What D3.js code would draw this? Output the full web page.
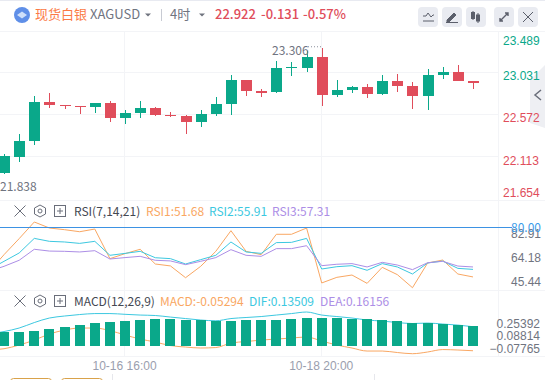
<!DOCTYPE html>
<html>
<head>
<meta charset="utf-8">
<script src="https://cdn.jsdelivr.net/npm/d3@7"></script>
<style>
  html, body { margin: 0; padding: 0; background: #fff; overflow: hidden; }
  svg { display: block; font-family: "Noto Sans CJK SC", "Noto Sans", sans-serif; }
</style>
</head>
<body>
<svg width="545" height="380"></svg>
<script>
// first entry of each series sits just off the left edge
const opens = [21.85, 21.937, 22.112, 22.287, 22.713, 22.68, 22.669, 22.658, 22.702, 22.538, 22.593, 22.647, 22.571, 22.56, 22.494, 22.582, 22.691, 22.953, 22.833, 22.822, 23.085, 23.085, 23.205, 22.79, 22.844, 22.877, 22.8, 22.943, 22.888, 22.779, 23.008, 23.041, 22.943];
const closes = [21.937, 22.123, 22.287, 22.713, 22.68, 22.669, 22.658, 22.702, 22.538, 22.593, 22.647, 22.571, 22.56, 22.494, 22.582, 22.691, 22.953, 22.833, 22.811, 23.085, 23.096, 23.205, 22.79, 22.844, 22.877, 22.8, 22.943, 22.888, 22.779, 23.008, 23.041, 22.943, 22.922];
const highs = [21.98, 22.145, 22.363, 22.779, 22.811, 22.68, 22.669, 22.702, 22.724, 22.626, 22.724, 22.658, 22.604, 22.571, 22.626, 22.768, 23.008, 22.953, 22.855, 23.161, 23.15, 23.27, 23.306, 22.953, 22.888, 22.91, 23.008, 23.019, 22.932, 23.074, 23.096, 23.117, 22.943];
const lows = [21.838, 21.926, 22.057, 22.243, 22.647, 22.636, 22.582, 22.593, 22.494, 22.473, 22.538, 22.56, 22.549, 22.363, 22.44, 22.56, 22.571, 22.779, 22.768, 22.811, 22.997, 23.041, 22.669, 22.768, 22.811, 22.757, 22.79, 22.822, 22.636, 22.626, 22.964, 22.943, 22.855];

const rsi1 = [45.3, 58.8, 71.3, 84.3, 79.6, 78.3, 76.7, 78.8, 55.7, 59.6, 63.0, 51.5, 50.0, 40.8, 49.7, 61.4, 77.5, 61.4, 58.8, 74.7, 74.7, 79.6, 36.7, 41.1, 42.9, 36.4, 48.9, 43.2, 33.0, 52.3, 54.6, 43.7, 41.4];
const rsi2 = [47.1, 53.6, 60.1, 71.5, 69.2, 68.7, 67.6, 69.2, 58.3, 59.8, 61.4, 56.4, 55.7, 51.5, 54.9, 58.3, 68.7, 60.9, 59.8, 68.2, 68.4, 71.5, 47.6, 49.4, 50.2, 46.6, 51.8, 49.2, 43.7, 52.3, 53.8, 48.1, 47.3];
const rsi3 = [45.8, 49.7, 54.4, 63.0, 61.6, 61.4, 60.9, 61.9, 55.4, 56.5, 57.5, 54.4, 53.9, 51.0, 53.6, 56.5, 62.7, 58.3, 57.5, 63.5, 63.5, 65.8, 50.2, 51.3, 51.8, 49.2, 52.8, 50.7, 47.1, 52.5, 53.6, 49.9, 49.2];

const macdLine = [-0.1, -0.085, -0.035, 0.032, 0.113, 0.167, 0.194, 0.194, 0.16, 0.1, 0.046, 0.005, -0.042, -0.062, -0.075, -0.069, -0.008, 0.012, 0.032, 0.046, 0.059, 0.073, 0.019, -0.035, -0.075, -0.116, -0.116, -0.136, -0.152, -0.129, -0.096, -0.102, -0.112];
const difLine = [0.113, 0.147, 0.194, 0.268, 0.329, 0.356, 0.376, 0.389, 0.389, 0.379, 0.369, 0.363, 0.342, 0.322, 0.302, 0.292, 0.322, 0.336, 0.349, 0.369, 0.389, 0.41, 0.369, 0.349, 0.329, 0.302, 0.288, 0.268, 0.255, 0.261, 0.248, 0.234, 0.212];
const macdBars = [0.14, 0.14, 0.14, 0.154, 0.181, 0.208, 0.234, 0.261, 0.275, 0.288, 0.302, 0.315, 0.315, 0.302, 0.302, 0.292, 0.288, 0.302, 0.302, 0.302, 0.315, 0.329, 0.329, 0.329, 0.315, 0.315, 0.302, 0.288, 0.261, 0.261, 0.248, 0.234, 0.221];
const macdBase = -0.05294;

const priceTicks = [23.489, 23.031, 22.572, 22.113, 21.654];
const rsiTicks = [82.91, 64.18, 45.44];
const macdTicks = [0.25392, 0.08814, -0.07765];
const timeTicks = [9, 22];
const timeLabels = ["10-16 16:00", "10-18 20:00"];
const lastClose = 22.922;

const GREEN = "#0aa88a";
const RED = "#e04d5b";
const ORANGE = "#f9a763";
const CYAN = "#3cc8e0";
const PURPLE = "#ac8ee6";
const GRID = "#f3f4f7";
const GRAY = "#70747f";

const svg = d3.select("svg");
const idx = d3.range(opens.length);

const x = d3.scaleLinear().domain([0, 32]).range([-11.1, 473]);
const priceY = d3.scaleLinear().domain([21.654, 23.489]).range([199, 31]);
const rsiY = d3.scaleLinear().domain([80 - 62.5 / 1.281, 80]).range([290, 227.5]);
const macdY = d3.scaleLinear().domain([-0.07765, 0.25392]).range([348.2, 323.6]);

const fillGroup = svg.append("g").attr("shape-rendering", "crispEdges");

// grid and pane borders
const gridH = [[0, 545, 31], [0, 498, priceY(23.031)], [0, 498, priceY(22.572)], [0, 498, priceY(22.113)],
  [0, 545, 200.5], [0, 545, 290.5], [0, 545, 356.5]];
gridH.forEach((d) => {
  fillGroup.append("line")
    .attr("x1", d[0]).attr("x2", d[1])
    .attr("y1", Math.floor(d[2]) + 0.5).attr("y2", Math.floor(d[2]) + 0.5)
    .attr("stroke", GRID);
});
timeTicks.forEach((t) => {
  fillGroup.append("line")
    .attr("x1", Math.round(x(t)) - 0.5).attr("x2", Math.round(x(t)) - 0.5)
    .attr("y1", 31).attr("y2", 356)
    .attr("stroke", GRID);
});
fillGroup.append("line")
  .attr("x1", 498.5).attr("x2", 498.5).attr("y1", 31).attr("y2", 356)
  .attr("stroke", GRID);
fillGroup.append("rect").attr("width", 545).attr("height", 1).attr("fill", "#e8eaf1");

// side tab, the price labels run over it
svg.append("path").attr("d", "M530 80L545 65V128L530 123Z").attr("fill", "#eeeff3");
svg.append("path").attr("d", "M541 90L535 95L541 100").attr("fill", "none").attr("stroke", "#6a6e7a").attr("stroke-width", 1.5);

// candles
const candleColor = (i) => (closes[i] >= opens[i] ? GREEN : RED);
fillGroup.selectAll("rect.wick")
  .data(idx)
  .join("rect")
  .attr("class", "wick")
  .attr("x", (i) => Math.round(x(i)))
  .attr("width", 1)
  .attr("y", (i) => priceY(highs[i]))
  .attr("height", (i) => priceY(lows[i]) - priceY(highs[i]))
  .attr("fill", candleColor);

fillGroup.selectAll("rect.body")
  .data(idx)
  .join("rect")
  .attr("class", "body")
  .attr("x", (i) => Math.round(x(i)) - 5)
  .attr("width", 11)
  .attr("y", (i) => priceY(Math.max(opens[i], closes[i])))
  .attr("height", (i) => Math.max(1, Math.abs(priceY(opens[i]) - priceY(closes[i]))))
  .attr("fill", candleColor);

// high and low marks
svg.append("line")
  .attr("x1", 308).attr("x2", x(22))
  .attr("y1", priceY(d3.max(highs)) - 1).attr("y2", priceY(d3.max(highs)) - 1)
  .attr("stroke", "#8b8f9c").attr("stroke-dasharray", "1 2");
svg.append("text").attr("x", 272).attr("y", 55).attr("font-size", 12).attr("fill", GRAY).text(d3.max(highs).toFixed(3));
svg.append("text").attr("x", 0).attr("y", 191).attr("font-size", 12).attr("fill", GRAY).text(d3.min(lows).toFixed(3));

// RSI lines
const rsiLine = d3.line().x((d, i) => x(i)).y((d) => rsiY(d));
[[rsi1, ORANGE], [rsi2, CYAN], [rsi3, PURPLE]].forEach(([s, c]) => {
  svg.append("path").attr("d", rsiLine(s)).attr("fill", "none").attr("stroke", c);
});
svg.append("line")
  .attr("x1", 0).attr("x2", 512)
  .attr("y1", rsiY(80)).attr("y2", rsiY(80))
  .attr("stroke", "#3d92e3").attr("shape-rendering", "crispEdges");

// MACD lines sit under the bars
const macdPath = d3.line().x((d, i) => x(i)).y((d) => macdY(d)).curve(d3.curveMonotoneX);
[[macdLine, ORANGE], [difLine, CYAN]].forEach(([s, c]) => {
  svg.append("path").attr("d", macdPath(s)).attr("fill", "none").attr("stroke", c);
});
svg.append("g").attr("shape-rendering", "crispEdges")
  .selectAll("rect")
  .data(macdBars)
  .join("rect")
  .attr("x", (d, i) => Math.round(x(i)) - 5)
  .attr("width", 10)
  .attr("y", (d) => macdY(d))
  .attr("height", (d) => macdY(macdBase) - macdY(d))
  .attr("fill", GREEN);

// axes
const cleanAxis = (g) => {
  g.select(".domain").remove();
  g.selectAll(".tick line").remove();
  g.selectAll("text").attr("font-family", null);
};

const priceShift = [9, 3, 3, 4, -7];
svg.append("g")
  .attr("transform", "translate(503,0)")
  .call(d3.axisRight(priceY).tickValues(priceTicks).tickFormat(d3.format(".3f")).tickSize(0).tickPadding(0))
  .call(cleanAxis)
  .attr("font-size", 12)
  .selectAll("text")
  .attr("dy", (d, i) => 4 + priceShift[i])
  .attr("fill", (d) => (d > lastClose ? GREEN : RED));

svg.append("g")
  .attr("transform", "translate(511,0)")
  .call(d3.axisRight(rsiY).tickValues(rsiTicks).tickFormat(d3.format(".2f")).tickSize(0).tickPadding(0))
  .call(cleanAxis)
  .attr("font-size", 12)
  .selectAll("text")
  .attr("dy", 14)
  .attr("fill", GRAY);

svg.append("text")
  .attr("x", 511).attr("y", rsiY(80) + 4)
  .attr("font-size", 12).attr("fill", "#3d9be9").text("80.00");

svg.append("g")
  .attr("transform", "translate(540,0)")
  .call(d3.axisLeft(macdY).tickValues(macdTicks).tickFormat(d3.format(".5f")).tickSize(0).tickPadding(0))
  .call(cleanAxis)
  .attr("font-size", 12)
  .selectAll("text")
  .attr("dy", 4)
  .attr("fill", GRAY);

svg.append("g")
  .attr("transform", "translate(-1,362)")
  .call(d3.axisBottom(x).tickValues(timeTicks).tickFormat((d, i) => timeLabels[i]).tickSize(0).tickPadding(0))
  .call(cleanAxis)
  .attr("font-size", 12)
  .selectAll("text")
  .attr("dy", 8)
  .attr("fill", "#9a9eae");

// pane headers
const label = (s, px, py, color, size) => svg.append("text")
  .attr("x", px).attr("y", py).attr("font-size", size || 12).attr("fill", color).text(s);

const paneIcons = (cy) => {
  const g = svg.append("g").attr("fill", "none").attr("stroke", "#6a6e7a");
  g.append("path").attr("d", `M14.5 ${cy - 5.5}L25.5 ${cy + 5.5}M25.5 ${cy - 5.5}L14.5 ${cy + 5.5}`);
  g.append("path").attr("d", `M34.5 ${cy - 3}L40 ${cy - 6}L45.5 ${cy - 3}V${cy + 3}L40 ${cy + 6}L34.5 ${cy + 3}Z`);
  g.append("circle").attr("cx", 40).attr("cy", cy).attr("r", 2);
  g.append("rect").attr("x", 54.5).attr("y", cy - 5.5).attr("width", 11).attr("height", 11);
  g.append("path").attr("d", `M57 ${cy}H63M60 ${cy - 3}V${cy + 3}`);
};

paneIcons(211);
label("RSI(7,14,21)", 74, 216, "#444852");
label("RSI1:51.68", 146, 216, ORANGE);
label("RSI2:55.91", 209, 216, CYAN);
label("RSI3:57.31", 272, 216, PURPLE);

paneIcons(301);
label("MACD(12,26,9)", 74, 306, "#444852");
label("MACD:-0.05294", 160, 306, ORANGE);
label("DIF:0.13509", 249, 306, CYAN);
label("DEA:0.16156", 320, 306, PURPLE);

// title bar
svg.append("circle").attr("cx", 22).attr("cy", 15).attr("r", 8).attr("fill", "#5f8fe8");
svg.append("path").attr("d", "M17 15L22 11.5L27 15L22 18.5Z").attr("fill", "#cfe0fa");
label("现货白银", 35, 19, "#fb7a45", 13);
label("XAGUSD", 90, 19, GRAY, 13);
label("4时", 170, 19, GRAY, 13);
label("22.922", 215, 19, RED, 13).attr("font-weight", 500);
label("-0.131", 261, 19, RED, 13).attr("font-weight", 500);
label("-0.57%", 303, 19, RED, 13).attr("font-weight", 500);
svg.append("path").attr("d", "M145 13.5H151L148 16.5Z M199 13.5H205L202 16.5Z").attr("fill", GRAY);
svg.append("line").attr("x1", 161.5).attr("x2", 161.5).attr("y1", 9).attr("y2", 21).attr("stroke", "#c8cbd3");

// tool buttons
const btnX = [418, 442, 466, 494, 518];
svg.append("g").selectAll("rect").data(btnX).join("rect")
  .attr("x", (d) => d).attr("y", 7).attr("width", 20).attr("height", 20).attr("rx", 4)
  .attr("fill", "#e9ebf1");
const ic = svg.append("g").attr("fill", "none").attr("stroke", "#5b5f6b");
ic.append("path").attr("d", "M423 16H426L428 13L431 17L433 15H434M423 21H434");
ic.append("path").attr("d", "M447 20L454 13L456 15L449 22H447ZM446 22.5H458").attr("fill", "#5b5f6b");
ic.append("path").attr("d", "M473 11V20M478 13V23");
ic.append("rect").attr("x", 471.5).attr("y", 12.5).attr("width", 3).attr("height", 6).attr("fill", "#5b5f6b");
ic.append("rect").attr("x", 476.5).attr("y", 15).attr("width", 3).attr("height", 6).attr("fill", "#5b5f6b");
ic.append("path").attr("d", "M500 21L508 13M505 13H508V16M500 18V21H503").attr("stroke-width", 1.4);
ic.append("path").attr("d", "M523 12L533 22M533 12L523 22");

// bottom edge of the cut-off buttons
svg.append("g").selectAll("rect").data([10, 61]).join("rect")
  .attr("x", (d) => d + 0.5).attr("y", 378.5).attr("width", 41).attr("height", 8).attr("rx", 3)
  .attr("fill", "none").attr("stroke", "#d9a24a");
svg.append("g").selectAll("line").data([112, 374]).join("line")
  .attr("x1", (d) => d + 0.5).attr("x2", (d) => d + 0.5).attr("y1", 374).attr("y2", 380)
  .attr("stroke", "#e6e7ec");
</script>
</body>
</html>
